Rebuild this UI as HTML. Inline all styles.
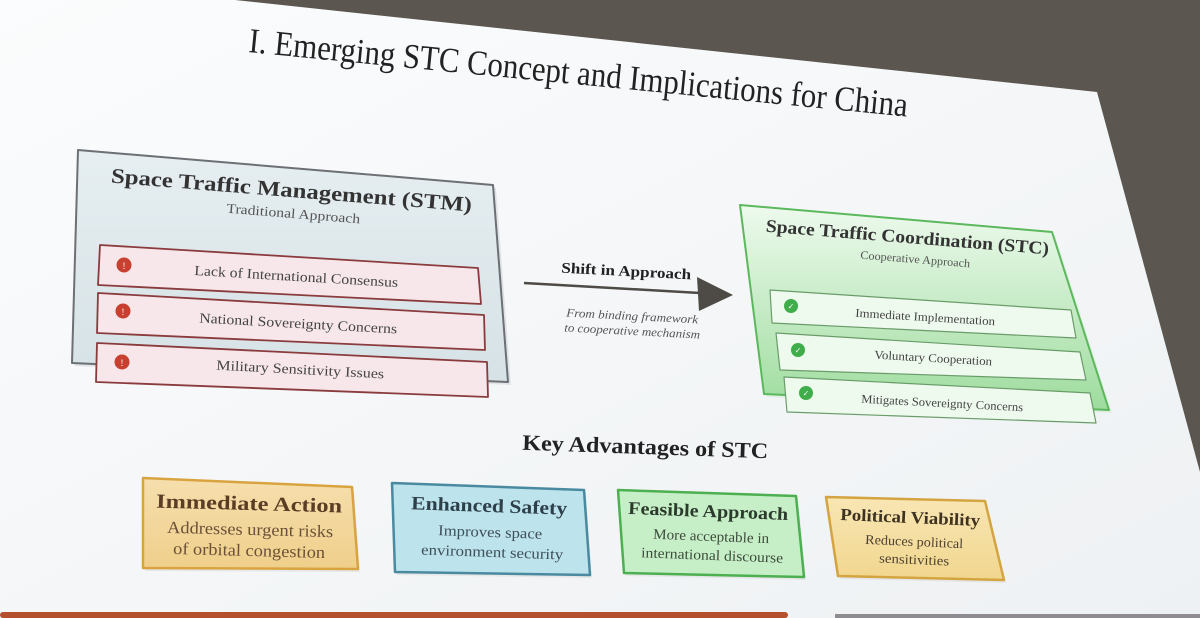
<!DOCTYPE html>
<html><head><meta charset="utf-8"><style>
html,body{margin:0;padding:0;width:1200px;height:618px;overflow:hidden;background:#f3f5f7}
svg{display:block}
text{font-family:"Liberation Serif",serif}
</style></head><body>
<svg width="1200" height="618" viewBox="0 0 1200 618" xmlns="http://www.w3.org/2000/svg">
<defs>
<linearGradient id="bg" x1="0" y1="0" x2="1" y2="1"><stop offset="0" stop-color="#fbfcfd"/><stop offset="1" stop-color="#eef1f3"/></linearGradient>
<linearGradient id="stm" x1="0" y1="0" x2="0" y2="1"><stop offset="0" stop-color="#e6eef1"/><stop offset="1" stop-color="#d6e2e6"/></linearGradient>
<linearGradient id="stc" x1="0" y1="0" x2="0" y2="1"><stop offset="0" stop-color="#eefaee"/><stop offset="1" stop-color="#9edc9e"/></linearGradient>
<linearGradient id="o1" x1="0" y1="0" x2="0" y2="1"><stop offset="0" stop-color="#f6dfae"/><stop offset="1" stop-color="#efcf8a"/></linearGradient>
<linearGradient id="o4" x1="0" y1="0" x2="0" y2="1"><stop offset="0" stop-color="#f8e6b4"/><stop offset="1" stop-color="#f1d68e"/></linearGradient>
</defs>
<rect width="1200" height="618" fill="url(#bg)"/>
<polygon points="235,0 1200,0 1200,472 1097,92" fill="#5b5650"/>
<rect x="0" y="612" width="788" height="6" fill="#b5502f" rx="3"/>
<rect x="835" y="614" width="365" height="4" fill="#8e8c90"/>

<text x="248" y="52" font-size="35" fill="#222" textLength="662" lengthAdjust="spacingAndGlyphs" transform="rotate(5.6 248 52)">I. Emerging STC Concept and Implications for China</text>

<!-- STM -->
<polygon points="78,150 493,185 508,382 72,363" fill="#c9d0d4" transform="translate(3,3)" opacity="0.5"/>
<polygon points="78,150 493,185 508,382 72,363" fill="url(#stm)" stroke="#6c7074" stroke-width="2" stroke-linejoin="round"/>
<text x="291" y="197" font-size="21" font-weight="bold" fill="#333" text-anchor="middle" textLength="362" lengthAdjust="spacingAndGlyphs" transform="rotate(4.6 291 197)">Space Traffic Management (STM)</text>
<text x="293" y="218" font-size="13.5" fill="#555" text-anchor="middle" textLength="134" lengthAdjust="spacingAndGlyphs" transform="rotate(4.6 293 218)">Traditional Approach</text>
<polygon points="100,245 478,268 481,304 98,285" fill="#f7e7ea" stroke="#8a3b3d" stroke-width="1.8" stroke-linejoin="round"/>
<polygon points="98,293 484,315 485,350 97,333" fill="#f7e7ea" stroke="#8a3b3d" stroke-width="1.8" stroke-linejoin="round"/>
<polygon points="97,343 487,362 488,397 96,382" fill="#f7e7ea" stroke="#8a3b3d" stroke-width="1.8" stroke-linejoin="round"/>
<circle cx="124" cy="265" r="7.5" fill="#c8402f"/><text x="124" y="269" font-size="9" fill="#fff" text-anchor="middle">!</text>
<circle cx="123" cy="311" r="7.5" fill="#c8402f"/><text x="123" y="315" font-size="9" fill="#fff" text-anchor="middle">!</text>
<circle cx="122" cy="362" r="7.5" fill="#c8402f"/><text x="122" y="366" font-size="9" fill="#fff" text-anchor="middle">!</text>
<text x="296" y="281" font-size="14" fill="#444" text-anchor="middle" textLength="204" lengthAdjust="spacingAndGlyphs" transform="rotate(3.4 296 281)">Lack of International Consensus</text>
<text x="298" y="328" font-size="14" fill="#444" text-anchor="middle" textLength="198" lengthAdjust="spacingAndGlyphs" transform="rotate(3.2 298 328)">National Sovereignty Concerns</text>
<text x="300" y="374" font-size="14" fill="#444" text-anchor="middle" textLength="168" lengthAdjust="spacingAndGlyphs" transform="rotate(3 300 374)">Military Sensitivity Issues</text>

<!-- arrow -->
<line x1="524" y1="283" x2="700" y2="293" stroke="#4e4a46" stroke-width="2.5"/>
<polygon points="697,277 733,295 699,311" fill="#4e4a46"/>
<text x="626" y="276" font-size="15" font-weight="bold" fill="#222" text-anchor="middle" textLength="130" lengthAdjust="spacingAndGlyphs" transform="rotate(3 626 276)">Shift in Approach</text>
<text x="632" y="320" font-size="12" font-style="italic" fill="#555" text-anchor="middle" textLength="132" lengthAdjust="spacingAndGlyphs" transform="rotate(3 632 320)">From binding framework</text>
<text x="632" y="335" font-size="12" font-style="italic" fill="#555" text-anchor="middle" textLength="136" lengthAdjust="spacingAndGlyphs" transform="rotate(3 632 335)">to cooperative mechanism</text>

<!-- STC -->
<polygon points="740,205 1052,232 1109,410 764,394" fill="#cfe8cf" transform="translate(3,3)" opacity="0.5"/>
<polygon points="740,205 1052,232 1109,410 764,394" fill="url(#stc)" stroke="#5cb85c" stroke-width="2" stroke-linejoin="round"/>
<text x="907" y="243" font-size="18" font-weight="bold" fill="#333" text-anchor="middle" textLength="284" lengthAdjust="spacingAndGlyphs" transform="rotate(4.6 907 243)">Space Traffic Coordination (STC)</text>
<text x="915" y="263" font-size="11.5" fill="#555" text-anchor="middle" textLength="110" lengthAdjust="spacingAndGlyphs" transform="rotate(4.5 915 263)">Cooperative Approach</text>
<polygon points="770,290 1071,310 1076,338 772,323" fill="#effaef" stroke="#6a9c6a" stroke-width="1.2" stroke-linejoin="round"/>
<polygon points="776,333 1080,352 1086,380 780,370" fill="#effaef" stroke="#6a9c6a" stroke-width="1.2" stroke-linejoin="round"/>
<polygon points="784,377 1090,393 1096,423 787,412" fill="#effaef" stroke="#6a9c6a" stroke-width="1.2" stroke-linejoin="round"/>
<circle cx="791" cy="306" r="7" fill="#3fae4a"/><text x="791" y="309" font-size="8" fill="#fff" text-anchor="middle">✓</text>
<circle cx="798" cy="350" r="7" fill="#3fae4a"/><text x="798" y="353" font-size="8" fill="#fff" text-anchor="middle">✓</text>
<circle cx="806" cy="393" r="7" fill="#3fae4a"/><text x="806" y="396" font-size="8" fill="#fff" text-anchor="middle">✓</text>
<text x="925" y="321" font-size="12" fill="#444" text-anchor="middle" textLength="140" lengthAdjust="spacingAndGlyphs" transform="rotate(3.5 925 321)">Immediate Implementation</text>
<text x="933" y="362" font-size="12" fill="#444" text-anchor="middle" textLength="118" lengthAdjust="spacingAndGlyphs" transform="rotate(3.3 933 362)">Voluntary Cooperation</text>
<text x="942" y="407" font-size="12" fill="#444" text-anchor="middle" textLength="162" lengthAdjust="spacingAndGlyphs" transform="rotate(3 942 407)">Mitigates Sovereignty Concerns</text>

<text x="645" y="454" font-size="22" font-weight="bold" fill="#222" text-anchor="middle" textLength="246" lengthAdjust="spacingAndGlyphs" transform="rotate(2 645 454)">Key Advantages of STC</text>

<!-- cards -->
<g stroke-linejoin="round">
<polygon points="143,478 352,487 358,569 143,568" fill="#ddd" opacity="0.6" transform="translate(2,3)"/>
<polygon points="143,478 352,487 358,569 143,568" fill="url(#o1)" stroke="#d9a440" stroke-width="2.5"/>
<text x="249" y="510" font-size="20" font-weight="bold" fill="#5a3d24" text-anchor="middle" textLength="186" lengthAdjust="spacingAndGlyphs" transform="rotate(1.5 249 510)">Immediate Action</text>
<text x="250" y="535" font-size="17" fill="#6b5038" text-anchor="middle" textLength="166" lengthAdjust="spacingAndGlyphs" transform="rotate(1.5 250 535)">Addresses urgent risks</text>
<text x="249" y="556" font-size="17" fill="#6b5038" text-anchor="middle" textLength="152" lengthAdjust="spacingAndGlyphs" transform="rotate(1.5 249 556)">of orbital congestion</text>

<polygon points="392,483 584,490 590,575 395,572" fill="#ddd" opacity="0.6" transform="translate(2,3)"/>
<polygon points="392,483 584,490 590,575 395,572" fill="#bde3ec" stroke="#4a8aa0" stroke-width="2.5"/>
<text x="489" y="512" font-size="19" font-weight="bold" fill="#2d3f48" text-anchor="middle" textLength="156" lengthAdjust="spacingAndGlyphs" transform="rotate(2 489 512)">Enhanced Safety</text>
<text x="490" y="537" font-size="15" fill="#3d4f58" text-anchor="middle" textLength="104" lengthAdjust="spacingAndGlyphs" transform="rotate(2 490 537)">Improves space</text>
<text x="492" y="557" font-size="15" fill="#3d4f58" text-anchor="middle" textLength="142" lengthAdjust="spacingAndGlyphs" transform="rotate(2 492 557)">environment security</text>

<polygon points="618,490 796,496 804,577 624,573" fill="#ddd" opacity="0.6" transform="translate(2,3)"/>
<polygon points="618,490 796,496 804,577 624,573" fill="#c7efc7" stroke="#4caf50" stroke-width="2.5"/>
<text x="708" y="517" font-size="18" font-weight="bold" fill="#2c3a2c" text-anchor="middle" textLength="160" lengthAdjust="spacingAndGlyphs" transform="rotate(2.2 708 517)">Feasible Approach</text>
<text x="711" y="541" font-size="14.5" fill="#3c4a3c" text-anchor="middle" textLength="116" lengthAdjust="spacingAndGlyphs" transform="rotate(2.2 711 541)">More acceptable in</text>
<text x="712" y="560" font-size="14.5" fill="#3c4a3c" text-anchor="middle" textLength="142" lengthAdjust="spacingAndGlyphs" transform="rotate(2.2 712 560)">international discourse</text>

<polygon points="826,497 985,501 1004,580 838,576" fill="#ddd" opacity="0.6" transform="translate(2,3)"/>
<polygon points="826,497 985,501 1004,580 838,576" fill="url(#o4)" stroke="#d4a440" stroke-width="2.5"/>
<text x="910" y="523" font-size="17" font-weight="bold" fill="#3e3222" text-anchor="middle" textLength="140" lengthAdjust="spacingAndGlyphs" transform="rotate(2.5 910 523)">Political Viability</text>
<text x="914" y="546" font-size="13.5" fill="#4e4232" text-anchor="middle" textLength="98" lengthAdjust="spacingAndGlyphs" transform="rotate(2.5 914 546)">Reduces political</text>
<text x="914" y="564" font-size="13.5" fill="#4e4232" text-anchor="middle" textLength="70" lengthAdjust="spacingAndGlyphs" transform="rotate(2.5 914 564)">sensitivities</text>
</g>
</svg>
</body></html>
